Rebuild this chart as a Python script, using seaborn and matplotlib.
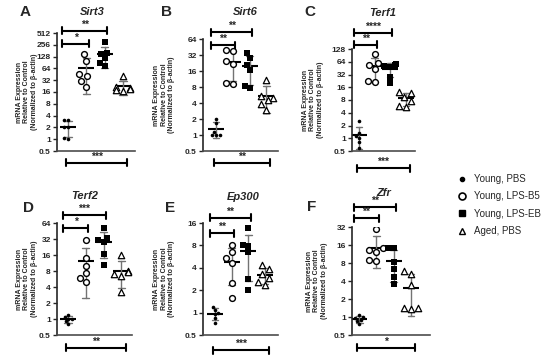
import numpy as np
import pandas as pd
import seaborn as sns
import matplotlib.pyplot as plt
from matplotlib.lines import Line2D
from matplotlib.ticker import NullLocator

groups = ['Young, PBS', 'Young, LPS-B5', 'Young, LPS-EB', 'Aged, PBS']
genes = ['Sirt3', 'Sirt6', 'Terf1', 'Terf2', 'Ep300', 'Zfr']
letters = ['A', 'B', 'C', 'D', 'E', 'F']

# values, one list per group (6 mice each)
sirt3 = [[3.0, 3.0, 2.1, 2.0, 1.05, 1.0], [150, 100, 45, 40, 30, 22],
         [300, 160, 150, 118, 90, 72], [40, 21, 20, 19, 18, 17]]
sirt6 = [[2.0, 1.7, 1.15, 1.0, 1.0, 1.0], [40, 38, 25, 22, 9.5, 9],
         [35, 28, 21, 17, 8.5, 7.5], [11, 5.5, 5.0, 4.5, 3.8, 3.0]]
terf1 = [[2.5, 1.3, 1.1, 1.0, 0.8, 0.6], [98, 60, 55, 42, 22, 21],
         [58, 55, 52, 48, 28, 20], [12.5, 11.5, 9.5, 7.5, 5.8, 5.4]]
terf2 = [[1.2, 1.1, 1.0, 1.0, 0.9, 0.8], [31, 14, 10, 7.3, 6, 5],
         [52, 34, 30, 28, 17, 10.5], [16, 8, 7.5, 7, 6.5, 3.2]]
ep300 = [[1.2, 1.1, 1.0, 0.95, 0.85, 0.73], [8.2, 6.5, 5.5, 4.7, 2.5, 1.55],
         [13.5, 8.2, 7.8, 6.5, 2.8, 2.0], [4.4, 3.8, 3.3, 2.9, 2.6, 2.35]]
zfr = [[1.1, 1.0, 0.95, 0.9, 0.85, 0.75], [30, 14, 13, 12, 9, 8.5],
       [14.5, 14.5, 8.2, 6.3, 4.7, 3.6], [5.9, 5.2, 3.4, 1.4, 1.4, 1.35]]
all_data = [sirt3, sirt6, terf1, terf2, ep300, zfr]

# y axis tops (powers of two)
ytops = [512, 64, 128, 64, 16, 32]
# significance: brackets from Young PBS to group j, and Young PBS vs Aged below
top_sig = [[(1, '*'), (2, '**')], [(1, '**'), (2, '**')], [(1, '**'), (2, '****')],
           [(1, '*'), (2, '***')], [(1, '**'), (2, '**')], [(1, '**'), (2, '**')]]
bottom_sig = ['***', '**', '***', '**', '***', '*']

# layout in pixels: axes box (left, top, right, bottom), xlim, ylabel x, title xy, letter xy,
# bracket levels (axes fraction), bottom bracket level
layout = [
    ((57, 33, 135, 151), (-0.6, 3.66), 27, (92, 12), (25, 12), (0.907, 1.017), -0.10),
    ((203, 39, 278, 151), (-0.78, 3.7), 164, (245, 12), (167, 12), (0.946, 1.06), -0.107),
    ((352, 49, 415, 151), (-0.45, 3.6), 313, (383, 13), (310, 12), (1.04, 1.16), -0.17),
    ((57, 223, 132, 335), (-0.62, 3.6), 27, (85, 196), (28, 208), (0.955, 1.07), -0.116),
    ((203, 223, 278, 335), (-0.72, 3.77), 164, (243, 197), (170, 208), (0.91, 1.045), -0.134),
    ((352, 227, 430, 335), (-0.41, 4.1), 317, (384, 193), (312, 207), (1.08, 1.185), -0.12),
]

W, H = 550, 358
sns.set_style('ticks')
plt.rcParams['font.family'] = ['Liberation Sans', 'DejaVu Sans']

fig = plt.figure(figsize=(W / 100, H / 100), dpi=100)


def fx(x):
    return x / W


def fy(y):
    return 1 - y / H


styles = [
    dict(marker='o', color='black', size=2.6, linewidth=0),
    dict(marker='o', color='white', edgecolor='black', linewidth=1.0, size=4.2),
    dict(marker='s', color='black', size=4.0, linewidth=0),
    dict(marker='^', color='white', edgecolor='black', linewidth=0.9, size=4.6),
]


def bracket(ax, x0, x1, y, text):
    tr = ax.get_xaxis_transform()
    h = 3.5 / (ax.get_position().height * H)
    ax.plot([x0, x1], [y, y], color='black', lw=1.5, transform=tr, clip_on=False)
    for xx in (x0, x1):
        ax.plot([xx, xx], [y - h, y + h], color='black', lw=1.5, transform=tr, clip_on=False)
    ax.text((x0 + x1) / 2, y + h * 0.3, text, transform=tr, ha='center', va='bottom',
            fontsize=7.5, fontweight='bold')


for i, gene in enumerate(genes):
    rect, xlim, lab_x, title_xy, letter_xy, levels, bot = layout[i]
    l, t, r, b = rect
    ax = fig.add_axes([fx(l), fy(b), (r - l) / W, (b - t) / H])

    df = pd.DataFrame({'group': np.repeat(groups, 6),
                       'value': np.concatenate(all_data[i])})

    # mean +/- SD (arithmetic, computed before switching to log axis)
    sns.pointplot(data=df, x='group', y='value', order=groups, estimator='mean',
                  errorbar='sd', color='black', markers='_', linestyles='none',
                  markersize=12, markeredgewidth=1.5, capsize=0.4,
                  err_kws={'color': '0.45', 'linewidth': 1.0}, ax=ax)
    ax.set_yscale('log', base=2)
    for g, st in zip(groups, styles):
        sns.swarmplot(data=df[df['group'] == g], x='group', y='value', order=groups,
                      ax=ax, zorder=3, **st)

    ax.set_ylim(0.5, ytops[i])
    ax.set_xlim(*xlim)
    ticks = [2.0 ** k for k in range(-1, int(np.log2(ytops[i])) + 1)]
    ax.set_yticks(ticks, ['0.5' if v < 1 else str(int(v)) for v in ticks])
    ax.yaxis.set_minor_locator(NullLocator())
    ax.set_xticks([])
    ax.set_xlabel('')
    ax.set_ylabel('')
    ax.tick_params(axis='y', length=3, width=1, pad=1.5, labelsize=6)
    for lbl in ax.get_yticklabels():
        lbl.set_fontweight('bold')
    sns.despine(ax=ax)
    ax.spines['left'].set_linewidth(1.2)
    ax.spines['bottom'].set_linewidth(1.2)
    ax.spines['bottom'].set_color('0.3')

    for k, (j, stars) in enumerate(top_sig[i]):
        bracket(ax, -0.3, j + 0.15, levels[k], stars)
    bracket(ax, -0.1, 3.25, bot, bottom_sig[i])

    fig.text(fx(lab_x), fy((t + b) / 2),
             'mRNA Expression\nRelative to Control\n(Normalized to β-actin)',
             rotation=90, ha='center', va='center', multialignment='center',
             fontsize=5.0, fontweight='bold', linespacing=1.1)
    fig.text(fx(title_xy[0]), fy(title_xy[1]), gene, ha='center', va='center',
             fontsize=8, fontweight='bold', fontstyle='italic')
    fig.text(fx(letter_xy[0]), fy(letter_xy[1]), letters[i], ha='center', va='center',
             fontsize=11, fontweight='bold')

handles = [
    Line2D([], [], marker='o', ls='none', color='black', markersize=3),
    Line2D([], [], marker='o', ls='none', markerfacecolor='white', markeredgecolor='black',
           markeredgewidth=1.2, markersize=5),
    Line2D([], [], marker='s', ls='none', color='black', markersize=5),
    Line2D([], [], marker='^', ls='none', markerfacecolor='white', markeredgecolor='black',
           markeredgewidth=1.0, markersize=5),
]
fig.legend(handles, groups, loc='center left', bbox_to_anchor=(fx(450), fy(205)),
           frameon=False, fontsize=7, handlelength=1.0, handletextpad=0.8,
           labelspacing=0.75, borderpad=0.2)

fig.savefig('out.png', dpi=100)
